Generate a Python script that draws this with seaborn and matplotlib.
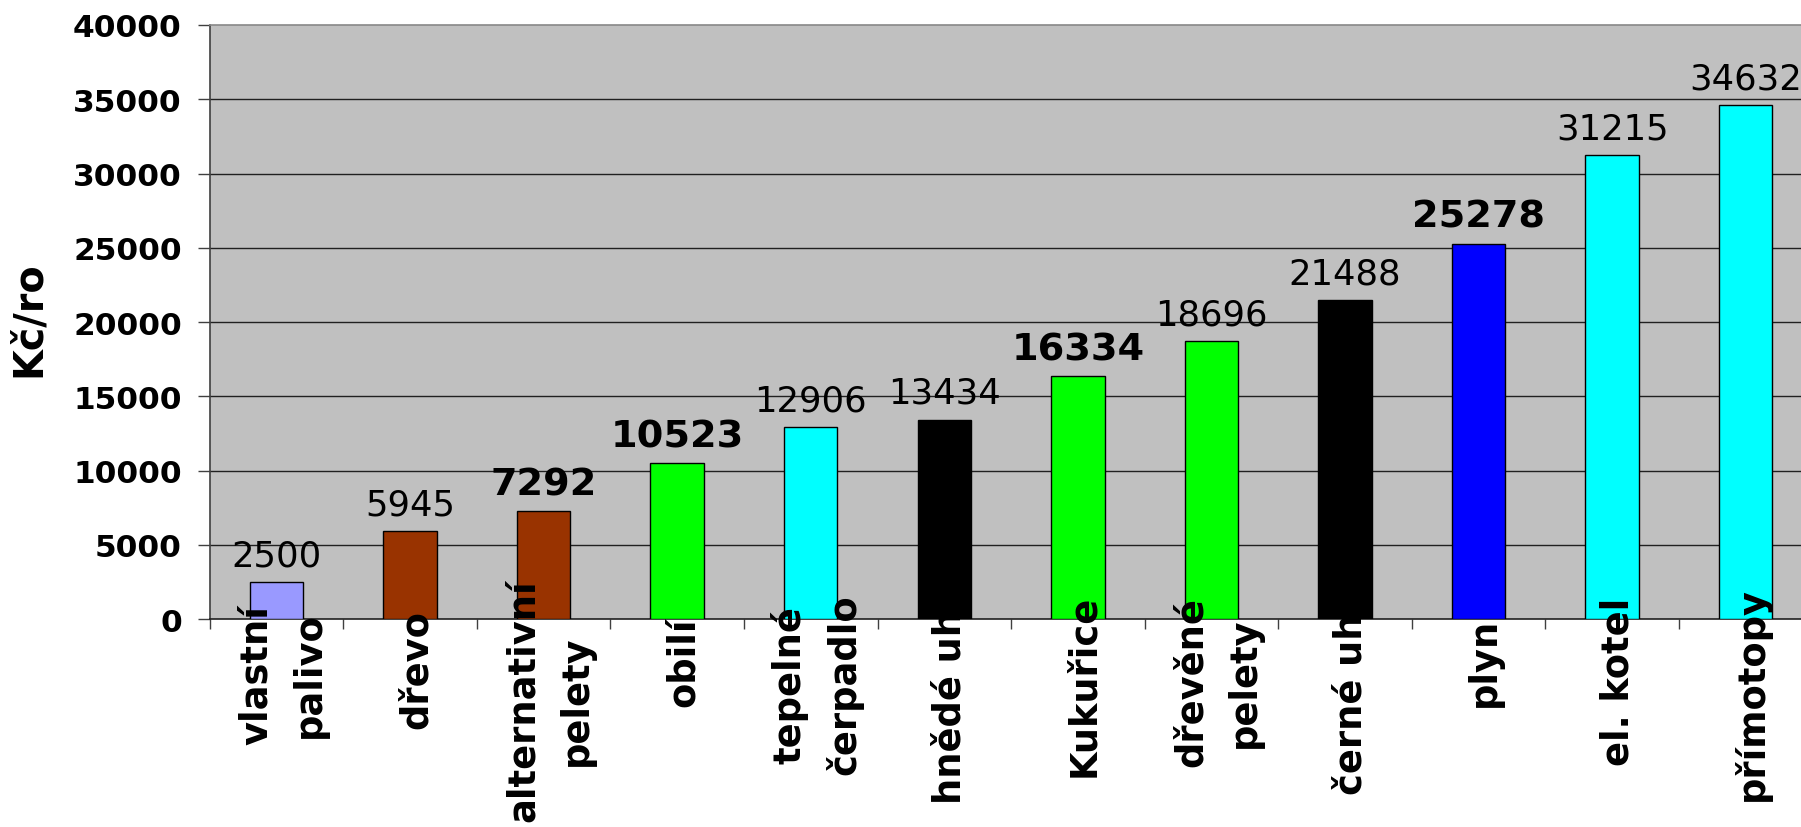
import numpy as np
import seaborn as sns
import matplotlib.pyplot as plt
import matplotlib.transforms as mtransforms


categories = ["vlastní\npalivo", "dřevo", "alternativní\npelety", "obilí",
              "tepelné\nčerpadlo", "hnědé uhlí", "Kukuřice", "dřevěné\npelety",
              "černé uhlí", "plyn", "el. kotel", "přímotopy"]
values = [2500, 5945, 7292, 10523, 12906, 13434, 16334, 18696, 21488, 25278, 31215, 34632]
colors = ["#9999FF", "#993300", "#993300", "#00FF00", "#00FFFF", "#000000",
          "#00FF00", "#00FF00", "#000000", "#0000FF", "#00FFFF", "#00FFFF"]
bold_labels = [False, False, True, True, False, False, True, False, False, True, False, False]
clipped = [False, False, False, False, False, True, False, False, True, False, False, False]
y_ticks = [0, 5000, 10000, 15000, 20000, 25000, 30000, 35000, 40000]

plt.rcParams['font.family'] = ['DejaVu Sans']

fig = plt.figure(figsize=(18.01, 8.28), dpi=100)
ax = fig.add_axes([0.1164, 0.2512, 0.89, 0.7174])
ax.set_facecolor("#C0C0C0")

sns.barplot(x=list(range(len(values))), y=values, hue=list(range(len(values))),
            palette=colors, legend=False, width=0.4, edgecolor="black",
            linewidth=1.0, saturation=1, ax=ax, zorder=3)

ax.set_xlim(-0.5, len(values) - 0.5)
ax.set_ylim(0, 40000)
ax.set_yticks(y_ticks)
ax.set_yticklabels([str(t) for t in y_ticks], fontsize=22.5, fontweight="bold")
ax.tick_params(axis="y", direction="out", length=9, width=1, color="#404040", pad=11)
ax.set_xticks(np.arange(-0.5, len(values), 1))
ax.set_xticklabels([])
ax.tick_params(axis="x", direction="out", length=7.5, width=1, color="#404040")
ax.set_xlabel("")
ax.set_ylabel("")

for y in y_ticks[1:-1]:
    ax.axhline(y, color="#202020", lw=1.0, zorder=1)

ax.spines["top"].set_color("#888888")
ax.spines["right"].set_visible(False)
ax.spines["left"].set_color("#404040")
ax.spines["bottom"].set_color("#202020")
for s in ax.spines.values():
    s.set_linewidth(1.2)

# value labels above the bars
for i, v in enumerate(values):
    ax.annotate(str(v), (i, v), xytext=(0, 12), textcoords="offset points",
                ha="center", va="baseline",
                fontsize=27.5 if bold_labels[i] else 25.5,
                fontweight="bold" if bold_labels[i] else "normal", zorder=5)

fig.text(29 / 1801, 1 - 319 / 828, "Kč/ro", rotation=90, ha="center", va="center",
         fontsize=28.5, fontweight="bold")

# category labels, rotated, placed like the original chart
texts = []
for i, lab in enumerate(categories):
    t = fig.text(i, 0, lab, rotation=90, ha="center", va="center", multialignment="center",
                 fontsize=26.5, fontweight="bold", linespacing=1.55,
                 transform=ax.get_xaxis_transform())
    texts.append(t)

fig.canvas.draw()
renderer = fig.canvas.get_renderer()
for i, t in enumerate(texts):
    L = t.get_window_extent(renderer).height
    dy = 20 + 0.25 * L
    t.set_transform(ax.get_xaxis_transform()
                    + mtransforms.ScaledTranslation(6 / 100, -dy / 100, fig.dpi_scale_trans))
    if clipped[i]:
        t.set_clip_box(mtransforms.TransformedBbox(mtransforms.Bbox([[0, -1], [1, 0]]), ax.transAxes))
        t.set_clip_on(True)

fig.savefig("out.png", dpi=100)
